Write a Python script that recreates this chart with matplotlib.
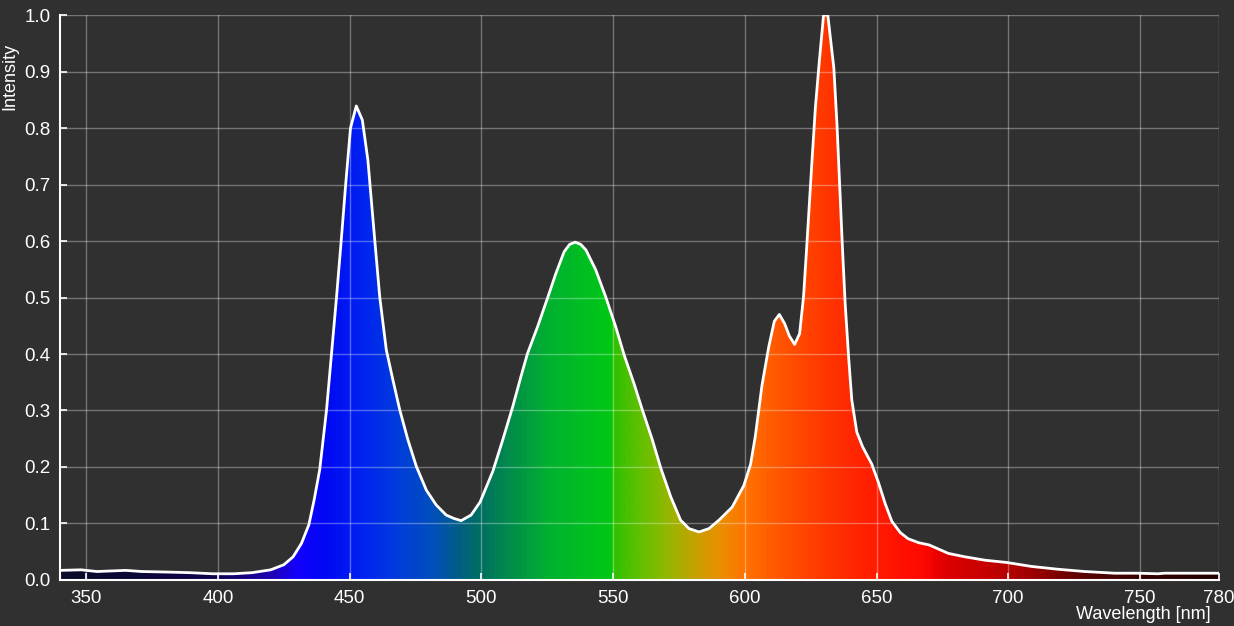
import numpy as np
import matplotlib
matplotlib.use('Agg')
import matplotlib.pyplot as plt
from matplotlib.colors import LinearSegmentedColormap
from matplotlib.patches import Polygon

plt.rcParams['font.family'] = ['Liberation Sans', 'DejaVu Sans']

# 光谱数据 (波长 nm, 相对强度)
wavelength = [340, 348, 354, 365, 371, 381, 389, 398, 406, 413,
              420, 425, 428.5, 431.7, 434.5, 436.5, 438.6, 441.2, 443.1, 445.0,
              446.9, 448.5, 450.3, 452.5, 454.8, 456.9, 459.5, 461.4, 463.9, 466.4,
              469, 472.1, 475.3, 479.1, 482.8, 486.6, 489.5, 492.3, 496.1, 499.5,
              504.3, 508.1, 511.9, 515.0, 517.5, 521.3, 525.1, 528.3, 531.4, 533.5,
              535.6, 537.7, 539.7, 543.4, 547.2, 551.0, 554.2, 557.9, 561.1, 564.9,
              568.1, 571.9, 575.6, 578.8, 582.6, 586.4, 590.2, 595.2, 599.6, 602.2,
              604.0, 606.5, 609.1, 611.2, 613.1, 615.1, 616.9, 618.9, 620.8, 622.3,
              623.6, 625.5, 626.8, 628.3, 629.9, 631.5, 633.8, 635.0, 635.9, 637.1,
              638.1, 639.4, 640.6, 642.5, 644.7, 648.2, 650.7, 653.3, 655.8, 659,
              662, 666, 670, 677.3, 683.6, 691.2, 699.4, 708.8, 718.9, 729,
              740.4, 749.2, 756.8, 759.3, 769.4, 780]
intensity = [0.017, 0.018, 0.015, 0.017, 0.015, 0.014, 0.013, 0.011, 0.011, 0.013,
             0.018, 0.027, 0.041, 0.065, 0.098, 0.142, 0.195, 0.301, 0.401, 0.501,
             0.608, 0.702, 0.800, 0.839, 0.814, 0.743, 0.602, 0.501, 0.407, 0.354,
             0.301, 0.248, 0.201, 0.159, 0.133, 0.115, 0.109, 0.105, 0.115, 0.138,
             0.192, 0.248, 0.307, 0.360, 0.401, 0.448, 0.499, 0.543, 0.581, 0.594,
             0.598, 0.594, 0.584, 0.549, 0.501, 0.448, 0.398, 0.348, 0.301, 0.248,
             0.198, 0.147, 0.106, 0.091, 0.085, 0.091, 0.106, 0.129, 0.167, 0.205,
             0.255, 0.344, 0.413, 0.458, 0.470, 0.454, 0.432, 0.417, 0.436, 0.502,
             0.597, 0.742, 0.837, 0.919, 1.000, 1.000, 0.906, 0.805, 0.710, 0.584,
             0.489, 0.395, 0.319, 0.262, 0.236, 0.205, 0.173, 0.135, 0.104, 0.084,
             0.073, 0.066, 0.062, 0.047, 0.041, 0.035, 0.031, 0.024, 0.019, 0.015,
             0.012, 0.012, 0.011, 0.012, 0.012, 0.012]

x_ticks = [350, 400, 450, 500, 550, 600, 650, 700, 750, 780]
y_ticks = [0.0, 0.1, 0.2, 0.3, 0.4, 0.5, 0.6, 0.7, 0.8, 0.9, 1.0]

# 波长颜色
spec_colors = [(340, '#0a0a28'), (370, '#0c0838'), (400, '#100050'), (420, '#2000b8'),
               (430, '#1400ff'), (440, '#0008f4'), (455, '#0024f0'), (470, '#0040d8'),
               (482, '#0050b8'), (492, '#006080'), (500, '#007060'), (512, '#009048'),
               (525, '#00b030'), (540, '#00c020'), (549.5, '#00c810'), (550.5, '#30c000'),
               (560, '#60c000'), (570, '#90b800'), (580, '#c0a400'), (590, '#e89000'),
               (600, '#ff7400'), (612, '#ff5800'), (630, '#ff3800'), (645, '#ff2200'),
               (660, '#ff1000'), (668, '#ff0800'), (676, '#e00000'), (700, '#b80000'),
               (714, '#900000'), (727, '#600000'), (750, '#350000'), (780, '#200000')]

fig = plt.figure(figsize=(12.34, 6.26), dpi=100, facecolor='#303030')
ax = fig.add_axes([0.0486, 0.0735, 0.9392, 0.9025])
ax.set_facecolor('#303030')

lo, hi = 340, 780
cmap = LinearSegmentedColormap.from_list(
    'spec', [((w - lo) / (hi - lo), c) for w, c in spec_colors])
grad = np.linspace(0, 1, 1200).reshape(1, -1)
im = ax.imshow(grad, cmap=cmap, aspect='auto', extent=[lo, hi, 0, 1],
               origin='lower', zorder=1, interpolation='bilinear')

verts = [(wavelength[0], 0)] + list(zip(wavelength, intensity)) + [(wavelength[-1], 0)]
clip = Polygon(verts, closed=True, transform=ax.transData, facecolor='none', edgecolor='none')
ax.add_patch(clip)
im.set_clip_path(clip)

ax.plot(wavelength, intensity, color='white', lw=2, zorder=3)

ax.set_xlim(lo, hi)
ax.set_ylim(0, 1.0)
ax.set_xticks(x_ticks)
ax.set_yticks(y_ticks)
ax.set_yticklabels(['%.1f' % v for v in y_ticks])

ax.set_axisbelow(False)
ax.grid(True, color='white', alpha=0.33, lw=1)

for s in ['top', 'right']:
    ax.spines[s].set_visible(False)
for s in ['left', 'bottom']:
    ax.spines[s].set_color('white')
    ax.spines[s].set_linewidth(1.5)
    ax.spines[s].set_zorder(4)

ax.tick_params(direction='in', length=5, width=1.2, color='white',
               labelcolor='white', labelsize=13.5, pad=7)

ax.set_xlabel('Wavelength [nm]', color='white', fontsize=13, ha='right')
ax.xaxis.set_label_coords(0.993, -0.046)
ax.set_ylabel('Intensity', color='white', fontsize=13, ha='right', va='center')
ax.yaxis.set_label_coords(-0.043, 0.95)

fig.savefig('out.png', dpi=100, facecolor=fig.get_facecolor())
